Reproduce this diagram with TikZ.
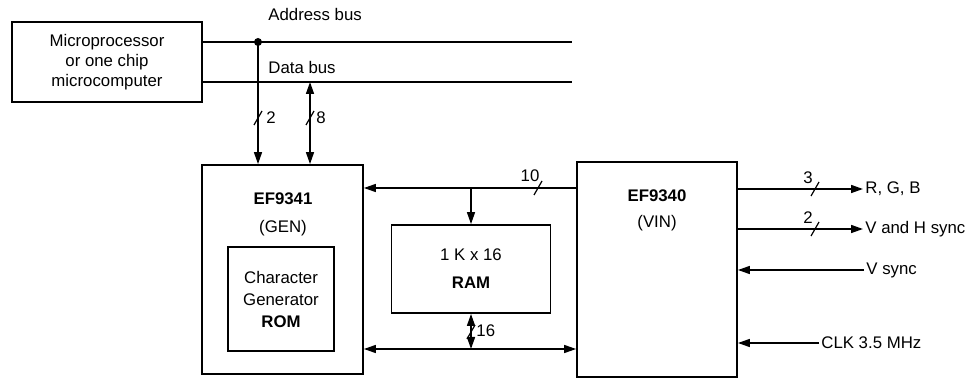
\documentclass[tikz,border=0pt]{standalone}
\usepackage{fontspec}
\setmainfont{Liberation Sans}
\usetikzlibrary{arrows.meta,positioning}

% short slash across a bus line
\newcommand{\busmark}[1]{\draw[line width=0.6pt] ([shift={(-4,7)}]#1) -- ([shift={(4,-7)}]#1);}

\begin{document}
\begin{tikzpicture}[
  x=0.5pt, y=-0.5pt,
  font=\fontsize{8.4}{10}\selectfont,
  blk/.style={draw, line width=0.9pt, align=center, inner sep=0pt},
  lbl/.style={inner sep=1pt},
  arr/.style={-{Triangle[length=6pt,width=4pt]}, line width=0.75pt},
  darr/.style={{Triangle[length=6pt,width=4pt]}-{Triangle[length=6pt,width=4pt]}, line width=0.75pt}
]
  \useasboundingbox (0,0) rectangle (972,378);

  % blocks
  \node[blk, minimum width=95pt, minimum height=40pt] (mpu) at (107,62) {Microprocessor\\or one chip\\microcomputer};
  \node[blk, minimum width=80.5pt, minimum height=104.5pt] (gen) at (282.5,269.5) {};
  \node[align=center] (genname) at (283,214) {\textbf{EF9341}\\[4pt](GEN)};
  \node[blk, minimum width=53pt, minimum height=52pt] (rom) at (281,299) {Character\\[1pt]Generator\\[1pt]\textbf{ROM}};
  \node[blk, minimum width=79.5pt, minimum height=44pt] (ram) at (471,269) {1 K x 16\\[4pt]\textbf{RAM}};
  \node[blk, minimum width=80pt, minimum height=107.5pt] (vin) at (657,269.5) {};
  \node[align=center] (vinname) at (657,210) {\textbf{EF9340}\\[3pt](VIN)};

  % buses
  \coordinate (abus) at (572,42);
  \coordinate (dbus) at (572,82);
  \coordinate (tap) at (258,42);
  \coordinate (dtap) at (310,82);
  \draw[line width=0.75pt] (mpu.east |- abus) -- (abus);
  \draw[line width=0.75pt] (mpu.east |- dbus) -- (dbus);
  \fill (tap) circle (2pt);
  \node[lbl, anchor=west] (alabel) at (266,15) {Address bus};
  \node[lbl, anchor=west] (dlabel) at (266,68) {Data bus};

  \draw[arr] (tap) -- (tap |- gen.north);
  \draw[darr] (dtap) -- (dtap |- gen.north);
  \busmark{258,118}
  \busmark{310,118}
  \node[lbl, anchor=west] (n2) at (264,118) {2};
  \node[lbl, anchor=west] (n8) at (314,118) {8};

  % links between GEN, RAM and VIN
  \coordinate (abranch) at (471,188);
  \coordinate (dbranch) at (471,349);
  \draw[arr] (abranch -| vin.west) -- (abranch -| gen.east);
  \draw[arr] (abranch) -- (ram.north);
  \busmark{538,188}
  \node[lbl] (n10) at (530,176) {10};

  \draw[darr] (dbranch -| gen.east) -- (dbranch -| vin.west);
  \draw[darr] (ram.south) -- (dbranch);
  \busmark{471,332}
  \node[lbl, anchor=west] (n16) at (474,331) {16};

  % VIN outputs and inputs
  \node[lbl, anchor=west] (rgb) at (863,189) {R, G, B};
  \node[lbl, anchor=west] (hvs) at (863,229) {V and H sync};
  \node[lbl, anchor=west] (vs) at (864,270) {V sync};
  \node[lbl, anchor=west] (clk) at (819,343) {CLK 3.5 MHz};

  \draw[arr] (rgb.west -| vin.east) -- (rgb.west);
  \draw[arr] (hvs.west -| vin.east) -- (hvs.west);
  \draw[arr] (vs.west) -- (vs.west -| vin.east);
  \draw[arr] (clk.west) -- (clk.west -| vin.east);
  \busmark{815,189}
  \busmark{815,229}
  \node[lbl] (n3) at (808,178) {3};
  \node[lbl] (n2b) at (808,218) {2};
\end{tikzpicture}
\end{document}
